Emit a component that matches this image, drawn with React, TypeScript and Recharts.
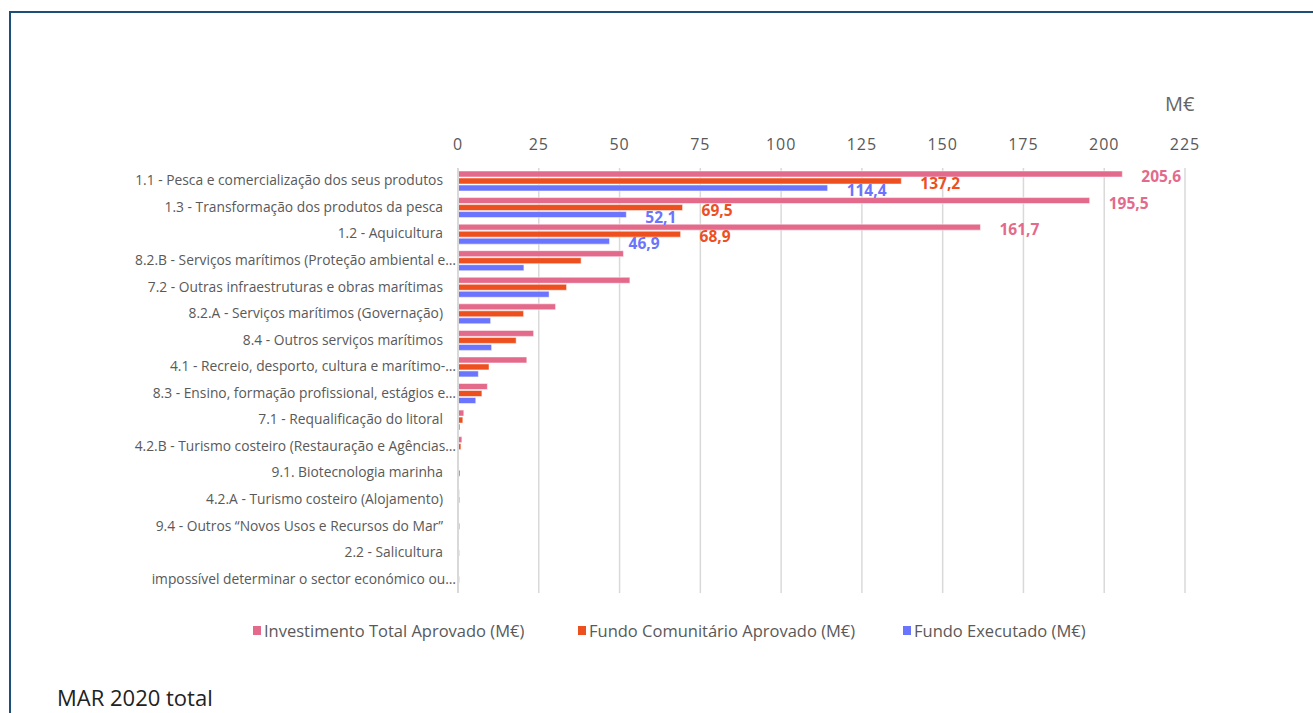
import React from "react";
import {
  BarChart,
  Bar,
  XAxis,
  YAxis,
  CartesianGrid,
  LabelList,
} from "recharts";

const categories = [
  "1.1 - Pesca e comercialização dos seus produtos",
  "1.3 - Transformação dos produtos da pesca",
  "1.2 - Aquicultura",
  "8.2.B - Serviços marítimos (Proteção ambiental e…",
  "7.2 - Outras infraestruturas e obras marítimas",
  "8.2.A - Serviços marítimos (Governação)",
  "8.4 - Outros serviços marítimos",
  "4.1 - Recreio, desporto, cultura e marítimo-…",
  "8.3 - Ensino, formação profissional, estágios e…",
  "7.1 - Requalificação do litoral",
  "4.2.B - Turismo costeiro (Restauração e Agências…",
  "9.1. Biotecnologia marinha",
  "4.2.A - Turismo costeiro (Alojamento)",
  "9.4 - Outros “Novos Usos e Recursos do Mar”",
  "2.2 - Salicultura",
  "impossível determinar o sector económico ou…",
];

const investimentoTotal = [205.6, 195.5, 161.7, 51.2, 53.2, 30.2, 23.4, 21.3, 9.1, 1.8, 1.2, 0.3, 0.4, 0.1, 0.1, 0.1];
const fundoComunitario = [137.2, 69.5, 68.9, 38.1, 33.6, 20.3, 18.0, 9.6, 7.4, 1.5, 0.9, 0.6, 0.5, 0.5, 0.4, 0.4];
const fundoExecutado = [114.4, 52.1, 46.9, 20.4, 28.2, 10.1, 10.4, 6.3, 5.5, 0.6, 0.1, 0, 0.1, 0, 0, 0];

const xTicks = [0, 25, 50, 75, 100, 125, 150, 175, 200, 225];

const series = [
  { key: "total", name: "Investimento Total Aprovado (M€)", color: "#E46A8C" },
  { key: "comunitario", name: "Fundo Comunitário Aprovado (M€)", color: "#EE4F1E" },
  { key: "executado", name: "Fundo Executado (M€)", color: "#6B74FD" },
];

const data = categories.map((name, i) => ({
  name,
  total: investimentoTotal[i],
  comunitario: fundoComunitario[i],
  executado: fundoExecutado[i],
}));

const FONT = "'Open Sans', Lato, sans-serif";

const CategoryTick = (props: any) => {
  const { y, payload } = props;
  const label: string = payload.value;
  const endX = label.endsWith("…") ? 456 : 443;
  return (
    <text x={endX} y={y} dy={4} textAnchor="end" fill="#595959" fontSize={13.8} fontFamily={FONT}>
      {label}
    </text>
  );
};

// only the three biggest groups carry value labels
const makeValueLabel = (color: string) => (props: any) => {
  const { x, y, width, height, value, index } = props;
  if (index > 2) return null;
  return (
    <text
      x={x + width + 19}
      y={y + height / 2 + 4}
      dominantBaseline="middle"
      fill={color}
      fontSize={15.5}
      fontWeight={700}
      fontFamily={FONT}
    >
      {String(value).replace(".", ",")}
    </text>
  );
};

export default function App() {
  return (
    <div
      style={{
        position: "fixed",
        left: 0,
        top: 0,
        width: 1313,
        height: 713,
        overflow: "hidden",
        background: "#fff",
      }}
    >
      <div
        style={{
          position: "absolute",
          left: 9,
          top: 11,
          width: 1400,
          height: 800,
          border: "2px solid #1F4E79",
        }}
      />
      <div
        style={{
          position: "absolute",
          left: 1165,
          top: 90,
          fontFamily: FONT,
          fontSize: 20,
          color: "#666",
        }}
      >
        M€
      </div>
      <div
        style={{
          position: "absolute",
          left: 57,
          top: 682,
          fontFamily: FONT,
          fontSize: 22,
          color: "#222",
        }}
      >
        MAR 2020 total
      </div>
      <div
        style={{
          position: "absolute",
          left: 253,
          top: 619,
          display: "flex",
          fontFamily: FONT,
          fontSize: 16.5,
          color: "#595959",
        }}
      >
        {series.map((s) => (
          <div key={s.key} style={{ width: 325, display: "flex", alignItems: "center" }}>
            <span style={{ display: "inline-block", width: 8, height: 9, background: s.color, marginRight: 3 }} />
            <span>{s.name}</span>
          </div>
        ))}
      </div>
      <div style={{ position: "absolute", left: 0, top: 0 }}>
        <BarChart
          width={1313}
          height={713}
          data={data}
          layout="vertical"
          margin={{ top: 138, right: 128, bottom: 120, left: 0 }}
          barSize={6}
          barGap={1}
        >
          <CartesianGrid horizontal={false} stroke="#D9D9D9" strokeWidth={1.5} />
          <XAxis
            type="number"
            orientation="top"
            domain={[0, 225]}
            ticks={xTicks}
            height={30}
            axisLine={false}
            tickLine={false}
            tickSize={0}
            tickMargin={18}
            tick={{ fill: "#595959", fontSize: 16, fontFamily: FONT, letterSpacing: 1 }}
          />
          <YAxis
            type="category"
            dataKey="name"
            width={458}
            axisLine={{ stroke: "#D9D9D9", strokeWidth: 2 }}
            tickLine={false}
            tick={<CategoryTick />}
            interval={0}
          />
          {series.map((s) => (
            <Bar
              key={s.key}
              dataKey={s.key}
              name={s.name}
              fill={s.color}
              stroke="#ffffff"
              strokeOpacity={0.5}
              strokeWidth={1}
              isAnimationActive={false}
            >
              <LabelList dataKey={s.key} content={makeValueLabel(s.color)} />
            </Bar>
          ))}
        </BarChart>
      </div>
    </div>
  );
}
